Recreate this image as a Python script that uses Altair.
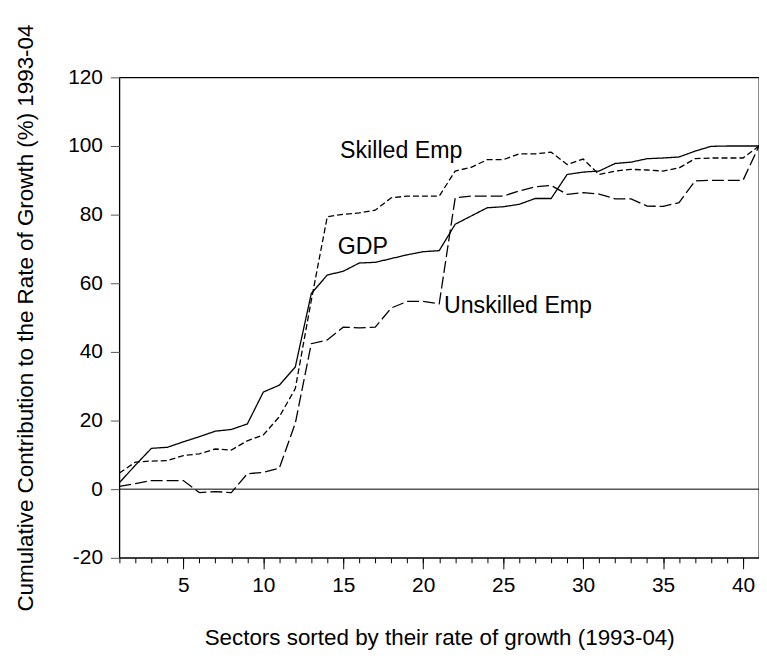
import altair as alt
import pandas as pd

sectors = list(range(1, 42))
gdp = [1.9, 7.0, 11.9, 12.2, 13.8, 15.3, 16.9, 17.4, 19.0, 28.3,
       30.3, 35.6, 57.0, 62.4, 63.5, 65.9, 66.1, 67.2, 68.3, 69.2,
       69.5, 77.2, 79.6, 82.0, 82.3, 83.0, 84.7, 84.7, 91.7, 92.4,
       92.7, 94.9, 95.3, 96.3, 96.5, 96.8, 98.5, 99.9, 100.0, 100.0, 100.0]
skilled = [4.7, 7.9, 8.2, 8.3, 9.8, 10.3, 11.7, 11.4, 14.1, 15.8,
           21.1, 29.3, 55.0, 79.4, 80.1, 80.5, 81.3, 84.9, 85.4, 85.4,
           85.4, 92.7, 93.8, 96.0, 96.0, 97.7, 97.7, 98.2, 94.6, 96.2,
           91.7, 92.7, 93.2, 93.0, 92.7, 93.6, 96.3, 96.5, 96.5, 96.5, 100.0]
unskilled = [0.8, 1.6, 2.5, 2.5, 2.5, -1.0, -0.7, -1.0, 4.5, 4.9,
             6.1, 19.2, 42.4, 43.5, 47.2, 47.0, 47.2, 52.8, 54.7, 54.7,
             54.0, 84.9, 85.4, 85.4, 85.4, 86.9, 88.1, 88.5, 85.9, 86.4,
             86.0, 84.6, 84.6, 82.5, 82.4, 83.5, 89.8, 90.0, 90.0, 90.0, 100.0]

label_text = ["Skilled Emp", "GDP", "Unskilled Emp"]
label_x = [14.8, 14.65, 21.3]
label_y = [98.5, 70.6, 53.5]

x_major = [5, 10, 15, 20, 25, 30, 35, 40]
y_ticks = [-20, 0, 20, 40, 60, 80, 100, 120]

FONT = "Liberation Sans"

rows = []
for name, vals in [("GDP", gdp), ("Skilled Emp", skilled), ("Unskilled Emp", unskilled)]:
    for s, v in zip(sectors, vals):
        rows.append({"sector": s, "value": v, "series": name})
df = pd.DataFrame(rows)

labels_df = pd.DataFrame({"text": label_text, "x": label_x, "y": label_y})
zero_df = pd.DataFrame({"y": [0]})

x_scale = alt.Scale(domain=[1, 41], nice=False, zero=False)
y_scale = alt.Scale(domain=[-20, 120], nice=False)

x_axis_major = alt.Axis(
    title="Sectors sorted by their rate of growth (1993-04)",
    orient="bottom",
    values=x_major,
    tickSize=11, tickColor="#000000", tickWidth=1,
    grid=False, domain=False,
    labelFont=FONT, labelFontSize=21, labelColor="#000000", labelPadding=6,
    labelFlush=False, labelOverlap=False,
    titleFont=FONT, titleFontSize=22.5, titleFontWeight="normal", titleColor="#000000",
    titlePadding=31,
)
x_axis_minor = alt.Axis(
    title=None,
    orient="bottom",
    values=sectors,
    tickSize=5, tickColor="#000000", tickWidth=1,
    grid=False, domain=False, labels=False,
)
y_title = "Cumulative Contribution to the Rate of Growth (%) 1993-04"
y_axis = alt.Axis(
    title=y_title,
    values=y_ticks,
    labelExpr="'' + datum.value",
    tickSize=9, tickColor="#555555", tickWidth=1,
    grid=False, domain=False,
    labelFont=FONT, labelFontSize=21, labelColor="#000000", labelPadding=8,
    titleFont=FONT, titleFontSize=22.5, titleFontWeight="normal", titleColor="#000000",
    titlePadding=30,
)

lines = alt.Chart(df).mark_line(color="#000000", strokeWidth=1.3, clip=True).encode(
    x=alt.X("sector:Q", scale=x_scale, axis=x_axis_major),
    y=alt.Y("value:Q", scale=y_scale, axis=y_axis, title=y_title),
    strokeDash=alt.StrokeDash(
        "series:N",
        scale=alt.Scale(domain=["GDP", "Skilled Emp", "Unskilled Emp"],
                        range=[[1, 0], [6, 3], [12, 4]]),
        legend=None,
    ),
    detail="series:N",
)

zero = alt.Chart(zero_df).mark_rule(color="#000000", strokeWidth=1).encode(
    y=alt.Y("y:Q", scale=y_scale, axis=y_axis, title=y_title),
)

texts = alt.Chart(labels_df).mark_text(
    align="left", baseline="middle", font=FONT, fontSize=23.3, color="#000000"
).encode(
    x=alt.X("x:Q", scale=x_scale, axis=x_axis_minor),
    y=alt.Y("y:Q", scale=y_scale, axis=y_axis, title=y_title),
    text="text:N",
)

chart = alt.layer(zero, lines, texts).resolve_axis(x="independent").properties(
    width=643, height=483,
    autosize=alt.AutoSizeParams(type="none"),
    padding={"left": 112, "top": 68, "right": 0, "bottom": 100},
    background="#ffffff",
).configure_view(stroke="#000000", strokeWidth=1.3)

chart.save("out.html", embed_options={"renderer": "svg", "actions": False})
